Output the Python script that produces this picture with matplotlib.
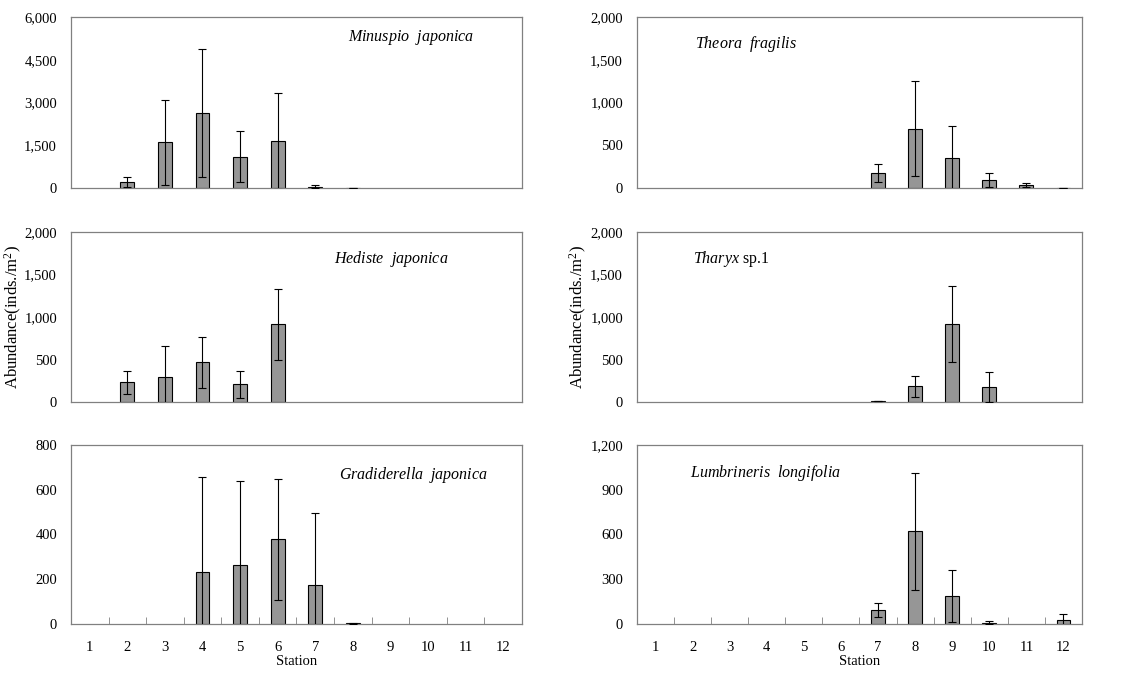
import numpy as np
import matplotlib.pyplot as plt
from matplotlib.ticker import FuncFormatter, FixedLocator

plt.rcParams['font.family'] = ['Liberation Serif', 'DejaVu Serif']
plt.rcParams['mathtext.fontset'] = 'custom'
plt.rcParams['mathtext.it'] = 'Liberation Serif:italic'
plt.rcParams['mathtext.rm'] = 'Liberation Serif'

stations = list(range(1, 13))

# mean abundance and standard deviation per station (1..12)
minuspio = [0, 210, 1600, 2630, 1100, 1650, 40, 5, 0, 0, 0, 0]
minuspio_sd = [0, 165, 1480, 2250, 890, 1670, 55, 3, 0, 0, 0, 0]
theora = [0, 0, 0, 0, 0, 0, 175, 695, 345, 95, 35, 3]
theora_sd = [0, 0, 0, 0, 0, 0, 100, 560, 385, 78, 23, 2]
hediste = [0, 230, 300, 470, 210, 915, 0, 0, 0, 0, 0, 0]
hediste_sd = [0, 140, 360, 300, 160, 420, 0, 0, 0, 0, 0, 0]
tharyx = [0, 0, 0, 0, 0, 0, 10, 185, 915, 175, 0, 0]
tharyx_sd = [0, 0, 0, 0, 0, 0, 3, 125, 445, 177, 0, 0]
gradiderella = [0, 0, 0, 232, 263, 378, 172, 3, 0, 0, 0, 0]
gradiderella_sd = [0, 0, 0, 424, 374, 270, 324, 2, 0, 0, 0, 0]
lumbrineris = [0, 0, 0, 0, 0, 0, 95, 620, 190, 8, 0, 28]
lumbrineris_sd = [0, 0, 0, 0, 0, 0, 45, 390, 175, 10, 0, 40]

panels = [
    (minuspio, minuspio_sd, 6000, 1500, r'$\it{Minuspio}$  $\it{japonica}$', (0.614, 0.86)),
    (theora, theora_sd, 2000, 500, r'$\it{Theora}$  $\it{fragilis}$', (0.13, 0.82)),
    (hediste, hediste_sd, 2000, 500, r'$\it{Hediste}$  $\it{japonica}$', (0.583, 0.82)),
    (tharyx, tharyx_sd, 2000, 500, r'$\it{Tharyx}$ sp.1', (0.126, 0.82)),
    (gradiderella, gradiderella_sd, 800, 200, r'$\it{Gradiderella}$  $\it{japonica}$', (0.594, 0.81)),
    (lumbrineris, lumbrineris_sd, 1200, 300, r'$\it{Lumbrineris}$  $\it{longifolia}$', (0.12, 0.82)),
]

fig = plt.figure(figsize=(11.21, 6.75), dpi=100)
lefts = [0.0633, 0.5682]
widths = [0.4023, 0.397]
rows = [(0.7215, 0.2533), (0.4044, 0.2519), (0.0756, 0.2652)]
label_x = [-0.104, -0.108]

fmt = FuncFormatter(lambda v, p: f'{int(v):,}')

for i, (vals, sd, ymax, step, label, pos) in enumerate(panels):
    r, c = divmod(i, 2)
    ax = fig.add_axes([lefts[c], rows[r][0], widths[c], rows[r][1]])
    shown = [k for k in range(12) if vals[k] > 0]
    xs = [stations[k] for k in shown]
    ys = [vals[k] for k in shown]
    ax.bar(xs, ys, width=0.37, color='#969696', edgecolor='black', linewidth=0.8, zorder=2)
    ax.errorbar(xs, ys, yerr=[sd[k] for k in shown], fmt='none', ecolor='black',
                elinewidth=0.8, capsize=3, capthick=0.8, zorder=3)
    ax.set_xlim(0.5, 12.5)
    ax.set_ylim(0, ymax)
    ax.set_yticks(np.arange(0, ymax + 1, step))
    ax.yaxis.set_major_formatter(fmt)
    ax.tick_params(axis='y', length=0, pad=10, labelsize=10.5)
    for s in ax.spines.values():
        s.set_color('#808080')
        s.set_linewidth(0.9)
    ax.text(pos[0], pos[1], label, transform=ax.transAxes, fontsize=11.5)
    if r == 2:
        ax.set_xticks(stations)
        ax.xaxis.set_minor_locator(FixedLocator(np.arange(1.5, 12, 1)))
        ax.tick_params(axis='x', which='major', length=0, pad=12, labelsize=10.5)
        ax.tick_params(axis='x', which='minor', direction='in', length=5, color='#808080')
        ax.set_xlabel('Station', fontsize=10.5, labelpad=1)
    else:
        ax.set_xticks([])
    if r == 1:
        ax.set_ylabel('Abundance(inds./m$^2$)', fontsize=12)
        ax.yaxis.set_label_coords(label_x[c], 0.5)

fig.savefig('out.png', dpi=100)
